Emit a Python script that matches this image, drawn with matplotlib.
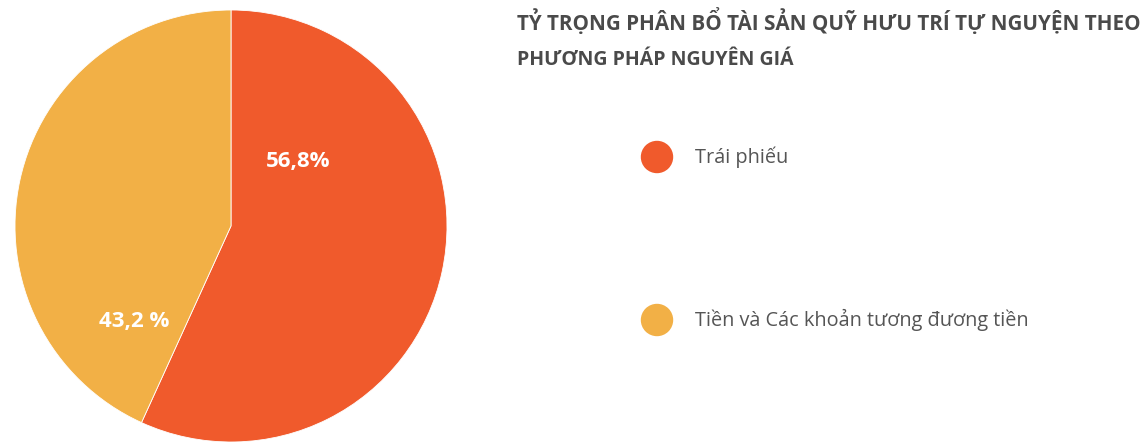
import matplotlib.pyplot as plt
from matplotlib.patches import Ellipse

# data
labels = ["Trái phiếu", "Tiền và Các khoản tương đương tiền"]
values = [56.8, 43.2]
pct_text = ["56,8%", "43,2 %"]
colors = ["#F05A2C", "#F2B046"]
title_lines = ["TỶ TRỌNG PHÂN BỔ TÀI SẢN QUỸ HƯU TRÍ TỰ NGUYỆN THEO",
               "PHƯƠNG PHÁP NGUYÊN GIÁ"]

W, H = 1145, 442
fig = plt.figure(figsize=(W / 100, H / 100), dpi=100)

# pie
ax = fig.add_axes([15 / W, 0 / H, 432 / W, 432 / H])
ax.pie(values, colors=colors, startangle=90, counterclock=False,
       wedgeprops=dict(linewidth=0.6, edgecolor="white"))
ax.set_xlim(-1, 1)
ax.set_ylim(-1, 1)
ax.set_aspect("equal")

# percentage labels
pct_pos = [(0.31, 0.30), (-0.45, -0.44)]
for (x, y), t in zip(pct_pos, pct_text):
    ax.text(x, y, t, color="white", fontsize=16, fontweight="bold",
            family="Open Sans", ha="center", va="center")

# title
fig.text(517 / W, 1 - 22 / H, title_lines[0], fontsize=14.9, fontweight="bold",
         color="#4a4a4a", family="Open Sans", ha="left", va="center")
fig.text(517 / W, 1 - 60 / H, title_lines[1], fontsize=14, fontweight="bold",
         color="#4a4a4a", family="Open Sans", ha="left", va="center")

# legend
leg_y = [157, 320]
for y, lab, c in zip(leg_y, labels, colors):
    fig.add_artist(Ellipse((657 / W, 1 - y / H), 31 / W, 31 / H,
                           transform=fig.transFigure, color=c))
    fig.text(695 / W, 1 - y / H, lab, fontsize=14.3, color="#555555",
             family="Open Sans", ha="left", va="center")

fig.savefig("out.png", dpi=100)
